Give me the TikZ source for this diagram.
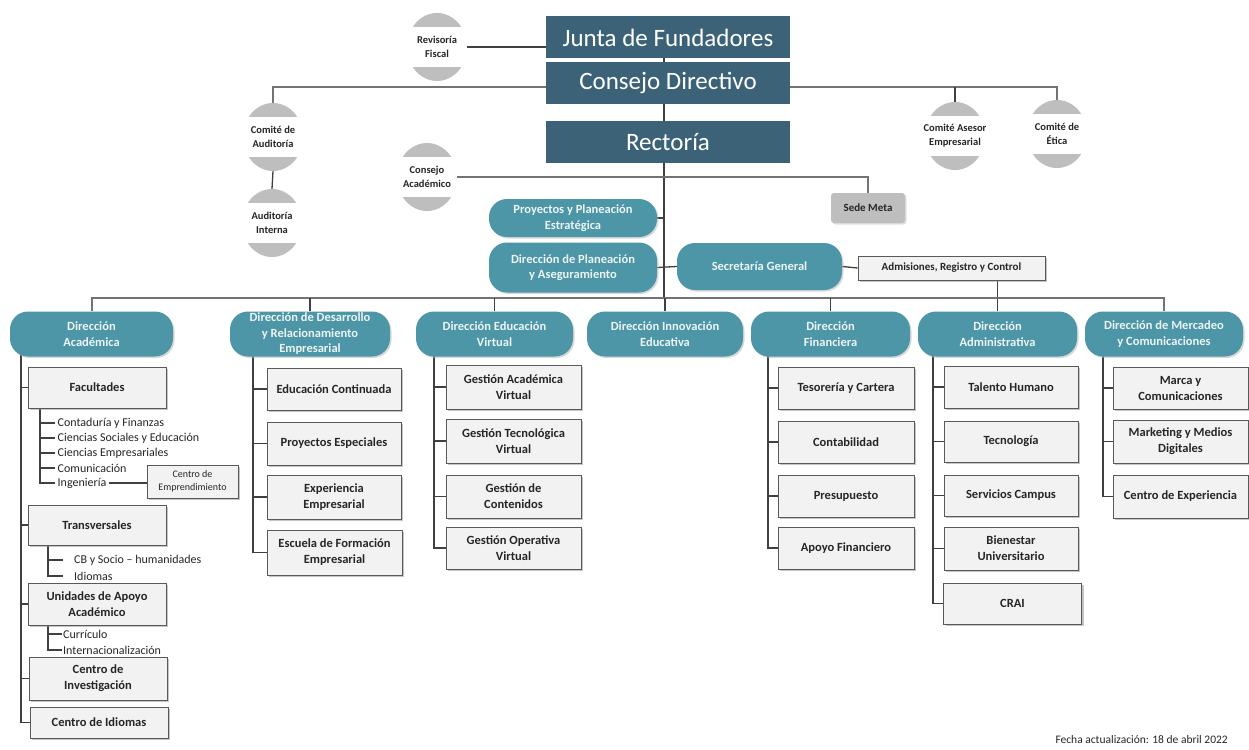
\documentclass[tikz,border=0pt]{standalone}
\usepackage{fontspec}
\setmainfont{Carlito}
\usetikzlibrary{shapes.geometric,shadows,backgrounds}
\definecolor{darkbox}{RGB}{60,98,120}
\definecolor{pillc}{RGB}{77,150,167}
\definecolor{capgrey}{RGB}{190,190,190}
\definecolor{boxfill}{RGB}{242,242,242}
\definecolor{txt}{RGB}{38,38,38}
\tikzset{
  topbox/.style={fill=darkbox, text=white, minimum width=244pt, minimum height=42pt, inner sep=0pt,
    font=\fontsize{25}{28}\selectfont},
  pill/.style={fill=pillc, text=white!90!pillc, rounded corners=18pt, minimum width=158pt, minimum height=45pt,
    inner sep=0pt, align=center, font=\bfseries\fontsize{12.5}{15.5}\selectfont,
    drop shadow={shadow xshift=1.5pt, shadow yshift=-1.5pt, fill=black!30}},
  subbox/.style={fill=boxfill, draw=black!65, line width=0.8pt, minimum width=135pt, minimum height=42pt,
    inner sep=0pt, align=center, text=txt, font=\bfseries\fontsize{12.5}{16}\selectfont,
    drop shadow={shadow xshift=2pt, shadow yshift=-2pt, fill=black!45}},
  smallbox/.style={subbox, font=\fontsize{10}{12.5}\selectfont},
  circtext/.style={align=center, text=txt, inner sep=0pt, font=\bfseries\fontsize{10.5}{14}\selectfont},
  listtext/.style={anchor=west, inner ysep=1pt, inner xsep=2.5pt, text=txt, font=\fontsize{12}{14}\selectfont},
  conn/.style={draw=black!75, line width=1.3pt},
  mainline/.style={draw=black!55, line width=2pt},
}
\newcommand{\capcirc}[4]{%
  \node[ellipse, minimum width=60pt, minimum height=68pt, inner sep=0pt, fill=white] (#1) at (#2,#3) {};
  \begin{scope}
    \clip (#2,#3) ellipse [x radius=30pt, y radius=34pt];
    \fill[capgrey] (#2-35,#3-40) rectangle (#2+35,#3-20);
    \fill[capgrey] (#2-35,#3+20) rectangle (#2+35,#3+40);
  \end{scope}
  \node[circtext] at (#1.center) {#4};
}
\begin{document}
\begin{tikzpicture}[x=1pt,y=-1pt]
\useasboundingbox (0,0) rectangle (1249,749);

% top boxes
\node[topbox] (jf) at (668,37.5) {Junta de Fundadores};
\node[topbox] (cd) at (668,83) {Consejo Directivo};
\node[topbox] (rect) at (668,142) {Rectoría};

% circles
\capcirc{rev}{437}{47}{Revisoría\\Fiscal}
\capcirc{aud}{273}{137}{Comité de\\Auditoría}
\capcirc{audi}{272}{223}{Auditoría\\Interna}
\capcirc{cacad}{427}{177}{Consejo\\Académico}
\capcirc{casesor}{955}{136}{Comité Asesor\\Empresarial}
\capcirc{cetica}{1057}{134}{Comité de\\Ética}

% middle
\node[fill=capgrey, rounded corners=3pt, minimum width=74pt, minimum height=30pt, inner sep=0pt, text=txt,
  font=\bfseries\fontsize{11}{13}\selectfont,
  drop shadow={shadow xshift=1.5pt, shadow yshift=-1.5pt, fill=black!25}] (sede) at (868,208) {Sede Meta};
\node[pill, minimum width=168pt, minimum height=38pt] (proy) at (573,218) {Proyectos y Planeación\\Estratégica};
\node[pill, minimum width=168pt, minimum height=50pt] (plan) at (573,267.5) {Dirección de Planeación\\y Aseguramiento};
\node[pill, minimum width=165pt, minimum height=47pt] (sec) at (759.5,266.5) {Secretaría General};
\node[subbox, minimum width=187pt, minimum height=24pt, font=\bfseries\fontsize{11}{13}\selectfont] (adm) at (951.5,268) {Admisiones, Registro y Control};

% directions
\node[pill, minimum width=163pt] (dacad) at (91.5,334) {Dirección\\Académica};
\node[pill, minimum width=160pt] (ddes) at (310,334) {Dirección de Desarrollo\\y Relacionamiento\\Empresarial};
\node[pill, minimum width=157pt] (dvir) at (494.5,334) {Dirección Educación\\Virtual};
\node[pill, minimum width=156pt] (dinn) at (665,334) {Dirección Innovación\\Educativa};
\node[pill, minimum width=159pt] (dfin) at (830.5,334) {Dirección\\Financiera};
\node[pill, minimum width=159pt] (dadm) at (997.5,334) {Dirección\\Administrativa};
\node[pill, minimum width=158pt] (dmerc) at (1164,334) {Dirección de Mercadeo\\y Comunicaciones};

% Académica
\node[subbox, minimum width=138pt, minimum height=41pt] (fac) at (97,387.5) {Facultades};
\node[subbox, minimum width=138pt, minimum height=40pt] (trans) at (97,525) {Transversales};
\node[subbox, minimum width=138pt, minimum height=42pt] (unid) at (97,604) {Unidades de Apoyo\\Académico};
\node[subbox, minimum width=138pt, minimum height=43pt] (cinv) at (98,678.5) {Centro de\\Investigación};
\node[subbox, minimum width=138pt, minimum height=31pt] (cidi) at (99,722.5) {Centro de Idiomas};
\node[listtext] (f1) at (55,423) {Contaduría y Finanzas};
\node[listtext] (f2) at (55,438) {Ciencias Sociales y Educación};
\node[listtext] (f3) at (55,453) {Ciencias Empresariales};
\node[listtext] (f4) at (55,468) {Comunicación};
\node[listtext] (f5) at (55,483) {Ingeniería};
\node[smallbox, minimum width=91pt, minimum height=33pt] (cemp) at (192.5,481.5) {Centro de\\Emprendimiento};
\node[listtext, inner xsep=11pt] (t1) at (63,560) {CB y Socio – humanidades};
\node[listtext, inner xsep=11pt] (t2) at (63,576) {Idiomas};
\node[listtext, inner xsep=1pt] (u1) at (62,634) {Currículo};
\node[listtext, inner xsep=1pt] (u2) at (62,650) {Internacionalización};

% Desarrollo
\node[subbox, minimum width=134pt] (ec) at (334,389) {Educación Continuada};
\node[subbox, minimum width=134pt, minimum height=43pt] (pe) at (334,443.5) {Proyectos Especiales};
\node[subbox, minimum width=134pt, minimum height=44pt] (ee) at (334,497) {Experiencia\\Empresarial};
\node[subbox, minimum width=135pt, minimum height=45pt] (esc) at (334.5,552.5) {Escuela de Formación\\Empresarial};

% Virtual
\node[subbox, minimum height=44pt] (gav) at (513.5,387) {Gestión Académica\\Virtual};
\node[subbox, minimum height=44pt] (gtv) at (513.5,441) {Gestión Tecnológica\\Virtual};
\node[subbox, minimum height=43pt] (gc) at (513.5,496.5) {Gestión de\\Contenidos};
\node[subbox, minimum height=42pt] (gov) at (513.5,548) {Gestión Operativa\\Virtual};

% Financiera
\node[subbox, minimum width=136pt] (tes) at (846,388) {Tesorería y Cartera};
\node[subbox, minimum width=136pt] (cont) at (846,442) {Contabilidad};
\node[subbox, minimum width=136pt] (pres) at (846,496) {Presupuesto};
\node[subbox, minimum width=136pt] (apf) at (846,548) {Apoyo Financiero};

% Administrativa
\node[subbox, minimum width=134pt] (th) at (1011,387) {Talento Humano};
\node[subbox, minimum width=134pt, minimum height=41pt] (tec) at (1011,441.5) {Tecnología};
\node[subbox, minimum width=134pt, minimum height=41pt] (sc) at (1011,495.5) {Servicios Campus};
\node[subbox, minimum width=134pt, minimum height=43pt] (bu) at (1011,548.5) {Bienestar\\Universitario};
\node[subbox, minimum width=138pt, minimum height=41pt] (crai) at (1012.5,603.5) {CRAI};

% Mercadeo
\node[subbox] (marca) at (1180.5,388) {Marca y\\Comunicaciones};
\node[subbox, minimum height=43pt] (mkt) at (1180.5,441.5) {Marketing y Medios\\Digitales};
\node[subbox, minimum height=43pt] (cexp) at (1180.5,496.5) {Centro de Experiencia};

\node[anchor=east, inner sep=0pt, text=txt, font=\fontsize{11.5}{13}\selectfont] (fecha) at (1228,740) {Fecha actualización: 18 de abril 2022};

\begin{pgfonlayer}{background}
  \fill[white] (0,0) rectangle (1249,749);
  \coordinate (ml) at (664,0);
  \coordinate (cl) at (0,87);
  \coordinate (bl) at (0,298);
  % top
  \draw[conn] (rev.east) -- (rev.east -| jf.west);
  \draw[conn] (jf.center -| ml) -- (ml |- bl);
  \draw[mainline] (aud.north) |- (cetica.north |- cl) -- (cetica.north);
  \draw[conn] (casesor.north) -- (casesor.north |- cl);
  \draw[conn] (aud.south) -- (audi.north);
  \draw[mainline] (cacad.east) -| (sede.north);
  \draw[conn] (proy.east) -- (proy.east -| ml);
  \draw[conn] (plan.east) -- (sec.west);
  \draw[conn] (sec.east) -- (adm.west);
  \draw[conn] (dadm.north |- adm.south) -- (dadm.north);
  % branch
  \draw[mainline] (dacad.north) |- (dmerc.north |- bl) -- (dmerc.north);
  \foreach \n in {ddes,dvir,dinn,dfin} \draw[conn] (\n.north) -- (\n.north |- bl);
  % Académica
  \coordinate (va) at (21,350);
  \draw[conn] (va) |- (cidi.west);
  \foreach \b in {fac,trans,unid,cinv} \draw[conn] (\b.west -| va) -- (\b.west);
  \coordinate (fl) at (40,0);
  \draw[conn] (fac.south -| fl) |- (f5.west);
  \foreach \b in {f1,f2,f3,f4} \draw[conn] (\b.west -| fl) -- (\b.west);
  \draw[conn] (f5.east) -- (f5.east -| cemp.west);
  \coordinate (tl) at (48,0);
  \draw[conn] (trans.south -| tl) |- (t2.west);
  \draw[conn] (t1.west -| tl) -- (t1.west);
  \draw[conn] (unid.south -| tl) |- (u2.west);
  \draw[conn] (u1.west -| tl) -- (u1.west);
  % Desarrollo
  \coordinate (vd) at (253,350);
  \draw[conn] (vd) |- (esc.west);
  \foreach \b in {ec,pe,ee} \draw[conn] (\b.west -| vd) -- (\b.west);
  % Virtual
  \coordinate (vv) at (434,350);
  \draw[conn] (vv) |- (gov.west);
  \foreach \b in {gav,gtv,gc} \draw[conn] (\b.west -| vv) -- (\b.west);
  % Financiera
  \coordinate (vf) at (768,350);
  \draw[conn] (vf) |- (apf.west);
  \foreach \b in {tes,cont,pres} \draw[conn] (\b.west -| vf) -- (\b.west);
  % Administrativa
  \coordinate (vad) at (933,350);
  \draw[conn] (vad) |- (crai.west);
  \foreach \b in {th,tec,sc,bu} \draw[conn] (\b.west -| vad) -- (\b.west);
  % Mercadeo
  \coordinate (vm) at (1103,350);
  \draw[conn] (vm) |- (cexp.west);
  \foreach \b in {marca,mkt} \draw[conn] (\b.west -| vm) -- (\b.west);
\end{pgfonlayer}
\end{tikzpicture}
\end{document}
